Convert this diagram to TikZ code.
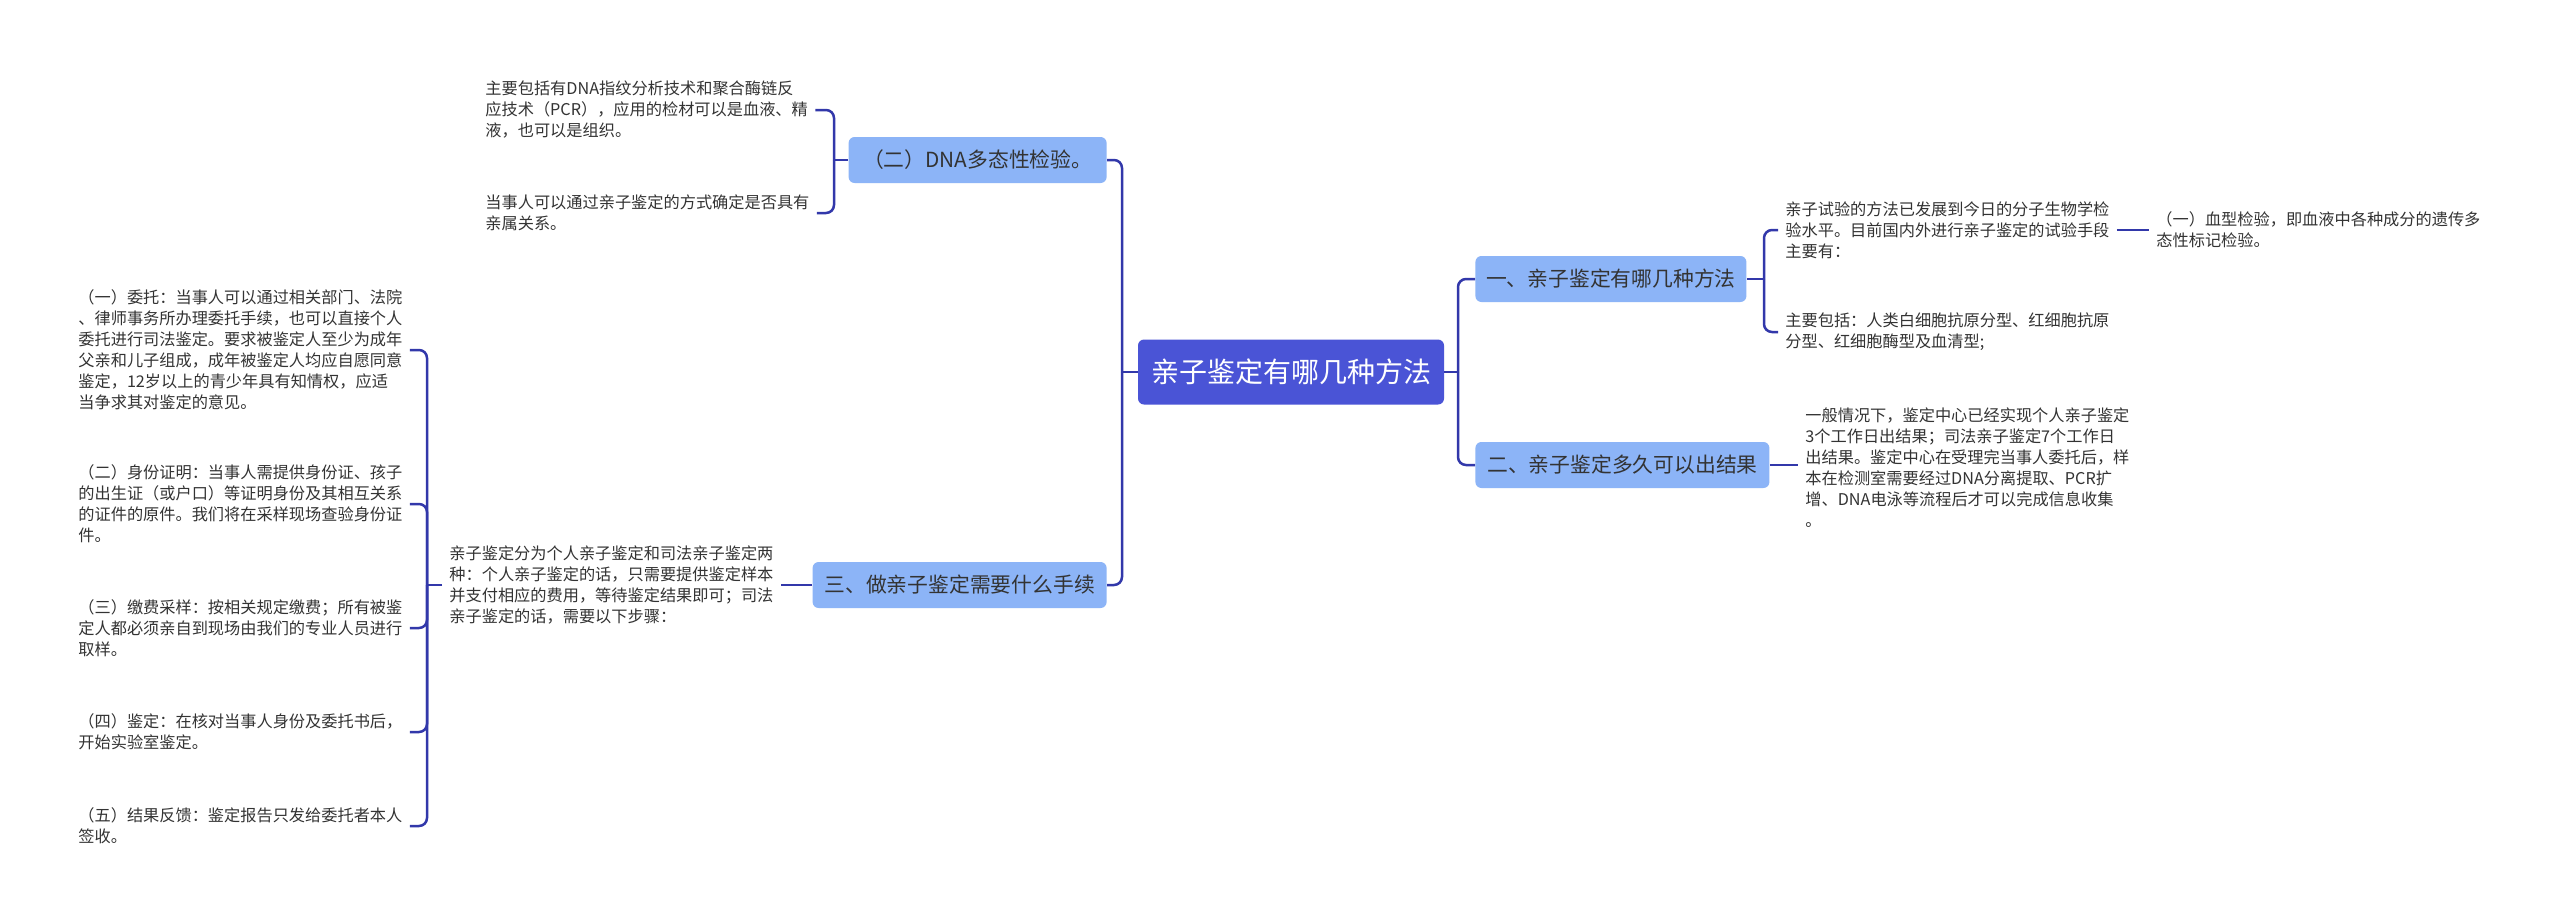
\documentclass[tikz,border=0pt]{standalone}
\usepackage{fontspec}
\setmainfont{Noto Sans CJK SC}
\definecolor{rootblue}{RGB}{74,84,214}
\definecolor{branchblue}{RGB}{140,180,247}
\definecolor{linkblue}{RGB}{50,56,170}
\definecolor{textgray}{RGB}{51,51,51}

\begin{document}
\begin{tikzpicture}[x=0.5pt,y=-0.5pt,
    rootbox/.style={fill=rootblue,text=white,rounded corners=3pt,font=\fontsize{14}{16}\selectfont,minimum height=32.5pt,minimum width=153pt,inner sep=0pt},
    branchbox/.style={fill=branchblue,text=textgray,rounded corners=3pt,font=\fontsize{10.4}{12}\selectfont,minimum height=23pt,inner ysep=0pt,inner xsep=5pt},
    leaf/.style={text=textgray,align=left,font=\fontsize{8.1}{10.5}\selectfont,inner xsep=3.5pt,inner ysep=0pt,anchor=west},
    link/.style={draw=linkblue,line width=1.25pt,rounded corners=4pt}]
  \useasboundingbox[fill=white] (0,0) rectangle (2560,923);

  \node[rootbox] (root) at (1291,372) {亲子鉴定有哪几种方法};

  \node[branchbox,anchor=west,minimum width=135.5pt] (fangfa) at (1475,279) {一、亲子鉴定有哪几种方法};
  \node[branchbox,anchor=west,minimum width=147pt] (jieguo) at (1475,465) {二、亲子鉴定多久可以出结果};
  \node[branchbox,anchor=east,minimum width=129pt] (dna) at (1107,160) {（二）DNA多态性检验。};
  \node[branchbox,anchor=east,minimum width=147pt] (shouxu) at (1107,585) {三、做亲子鉴定需要什么手续};

  \node[leaf] (shiyan) at (1778,230) {亲子试验的方法已发展到今日的分子生物学检\\验水平。目前国内外进行亲子鉴定的试验手段\\主要有：};
  \node[leaf] (xuexing) at (2149,230) {（一）血型检验，即血液中各种成分的遗传多\\态性标记检验。};
  \node[leaf] (baoxibao) at (1778,332) {主要包括：人类白细胞抗原分型、红细胞抗原\\分型、红细胞酶型及血清型;};
  \node[leaf] (shijian) at (1798,468) {一般情况下，鉴定中心已经实现个人亲子鉴定\\3个工作日出结果；司法亲子鉴定7个工作日\\出结果。鉴定中心在受理完当事人委托后，样\\本在检测室需要经过DNA分离提取、PCR扩\\增、DNA电泳等流程后才可以完成信息收集\\。};

  \node[leaf] (zhiwen) at (478,110) {主要包括有DNA指纹分析技术和聚合酶链反\\应技术（PCR），应用的检材可以是血液、精\\液，也可以是组织。};
  \node[leaf] (guanxi) at (478,213) {当事人可以通过亲子鉴定的方式确定是否具有\\亲属关系。};

  \node[leaf] (liangzhong) at (442,585) {亲子鉴定分为个人亲子鉴定和司法亲子鉴定两\\种：个人亲子鉴定的话，只需要提供鉴定样本\\并支付相应的费用，等待鉴定结果即可；司法\\亲子鉴定的话，需要以下步骤：};
  \node[leaf] (weituo) at (71,350) {（一）委托：当事人可以通过相关部门、法院\\、律师事务所办理委托手续，也可以直接个人\\委托进行司法鉴定。要求被鉴定人至少为成年\\父亲和儿子组成，成年被鉴定人均应自愿同意\\鉴定，12岁以上的青少年具有知情权，应适\\当争求其对鉴定的意见。};
  \node[leaf] (shenfen) at (71,504) {（二）身份证明：当事人需提供身份证、孩子\\的出生证（或户口）等证明身份及其相互关系\\的证件的原件。我们将在采样现场查验身份证\\件。};
  \node[leaf] (jiaofei) at (71,628) {（三）缴费采样：按相关规定缴费；所有被鉴\\定人都必须亲自到现场由我们的专业人员进行\\取样。};
  \node[leaf] (jianding) at (71,732) {（四）鉴定：在核对当事人身份及委托书后，\\开始实验室鉴定。};
  \node[leaf] (fankui) at (71,826) {（五）结果反馈：鉴定报告只发给委托者本人\\签收。};

  \coordinate (rtrunk) at (1458,372);
  \coordinate (ltrunk) at (1122,372);
  \coordinate (fangfa-fork) at (1764,279);
  \coordinate (dna-fork) at (834,160);
  \coordinate (buzhou-fork) at (427,585);

  \draw[link] (root.east) -- (rtrunk);
  \draw[link] (fangfa.west) -| (rtrunk);
  \draw[link] (jieguo.west) -| (rtrunk);
  \draw[link] (root.west) -- (ltrunk);
  \draw[link] (dna.east) -| (ltrunk);
  \draw[link] (shouxu.east) -| (ltrunk);

  \draw[link] (fangfa.east) -- (fangfa-fork);
  \foreach \n in {shiyan,baoxibao}
    \draw[link] (\n.west) -| (fangfa-fork);
  \draw[link] (shiyan.east) -- (xuexing.west);
  \draw[link] (jieguo.east) -- (jieguo.east -| shijian.west);

  \draw[link] (dna.west) -- (dna-fork);
  \foreach \n in {zhiwen,guanxi}
    \draw[link] (\n.east) -| (dna-fork);

  \draw[link] (shouxu.west) -- (liangzhong.east);
  \draw[link] (liangzhong.west) -- (buzhou-fork);
  \foreach \n in {weituo,shenfen,jiaofei,jianding,fankui}
    \draw[link] (\n.east) -| (buzhou-fork);
\end{tikzpicture}
\end{document}
